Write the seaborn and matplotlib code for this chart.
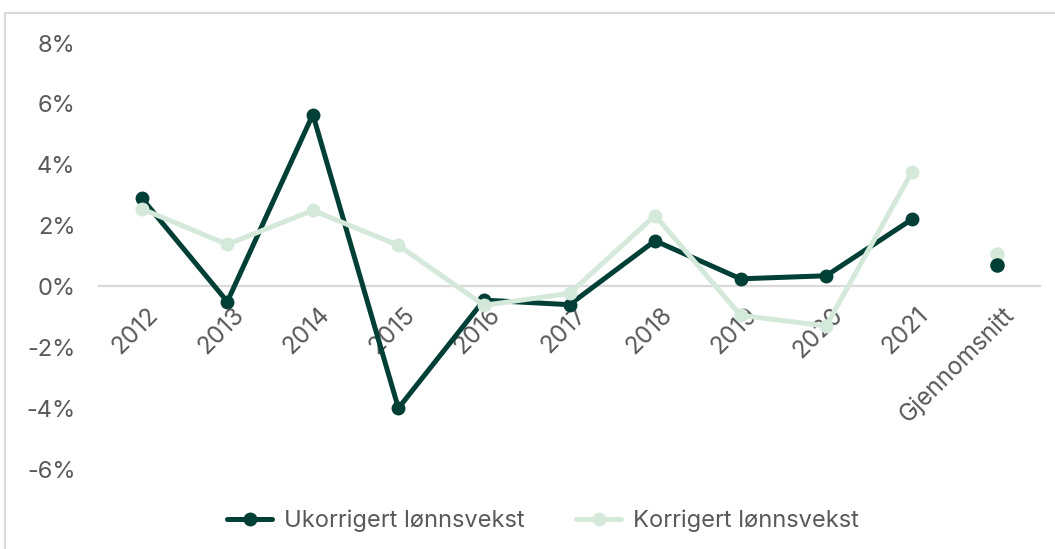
import matplotlib
matplotlib.use('Agg')
from matplotlib import pyplot as plt
from matplotlib import ticker as ticker
from matplotlib import transforms
from matplotlib.lines import Line2D
import pandas as pd
import seaborn as sns

sns.set_style('white')
plt.rcParams['font.family'] = ['Inter', 'DejaVu Sans']

categories = ['2012', '2013', '2014', '2015', '2016', '2017', '2018', '2019', '2020', '2021', 'Gjennomsnitt']
ukorrigert = [2.9, -0.5, 5.65, -4.0, -0.45, -0.6, 1.5, 0.25, 0.35, 2.2, 0.72]
korrigert = [2.55, 1.38, 2.5, 1.35, -0.62, -0.23, 2.33, -0.95, -1.3, 3.75, 1.05]

dark = '#003f35'
light = '#d5e9db'
grey_text = '#595959'

df = pd.DataFrame({'pos': range(len(categories)), 'kategori': categories,
                   'Ukorrigert lønnsvekst': ukorrigert,
                   'Korrigert lønnsvekst': korrigert})
years = df.iloc[:-1]
avg = df.iloc[-1:]

fig = plt.figure(figsize=(10.55, 5.49), dpi=100)
ax = fig.add_axes([99/1055, 1 - 469/549, (1040-99)/1055, (469-43)/549])

for col, c in [('Ukorrigert lønnsvekst', dark), ('Korrigert lønnsvekst', light)]:
    sns.lineplot(x='pos', y=col, data=years, ax=ax, color=c, lw=3.6,
                 marker='o', markersize=10, markeredgewidth=0, zorder=3)
# average point is not connected to the yearly line
sns.scatterplot(x='pos', y='Korrigert lønnsvekst', data=avg, ax=ax, color=light, s=110,
                linewidth=0, zorder=4)
sns.scatterplot(x='pos', y='Ukorrigert lønnsvekst', data=avg, ax=ax, color=dark, s=110,
                linewidth=0, zorder=5)

ax.set(xlim=(-0.5, len(categories) - 0.5), ylim=(-6, 8), xlabel='', ylabel='')
ax.yaxis.set_major_locator(ticker.MultipleLocator(2))
ax.yaxis.set_major_formatter(ticker.FuncFormatter(lambda v, p: '{:.0f}%'.format(v)))
ax.set_xticks(range(len(categories)))
ax.set_xticklabels(categories)

for s in ['top', 'right', 'left']:
    ax.spines[s].set_visible(False)
ax.spines['bottom'].set_position(('data', 0))
ax.spines['bottom'].set_color('#d9d9d9')
ax.spines['bottom'].set_linewidth(1.6)
ax.spines['bottom'].set_zorder(1)

ax.tick_params(axis='y', length=0, pad=17, labelsize=17, labelcolor=grey_text)
ax.tick_params(axis='x', length=0, pad=12, labelsize=17.5, labelcolor=grey_text)
shift = transforms.ScaledTranslation(5/100, 0, fig.dpi_scale_trans)
for lab in ax.get_xticklabels():
    lab.set_rotation(45)
    lab.set_ha('right')
    lab.set_va('top')
    lab.set_rotation_mode('anchor')
    lab.set_zorder(0)
    lab.set_transform(lab.get_transform() + shift)

handles = [Line2D([], [], color=dark, lw=3.6, marker='o', markersize=10, markeredgewidth=0),
           Line2D([], [], color=light, lw=3.6, marker='o', markersize=10, markeredgewidth=0)]
fig.legend(handles, ['Ukorrigert lønnsvekst', 'Korrigert lønnsvekst'], loc='center',
           bbox_to_anchor=(543/1055, 1 - 521/549), ncol=2, frameon=False, fontsize=17,
           labelcolor=grey_text, handlelength=1.9, handletextpad=0.5, columnspacing=2.2)

# chart area border (top and left visible)
fig.add_artist(Line2D([5/1055, 5/1055, 1], [0, 1 - 13/549, 1 - 13/549], color='#d9d9d9', lw=1.5))

plt.savefig('out.png', dpi=100)
